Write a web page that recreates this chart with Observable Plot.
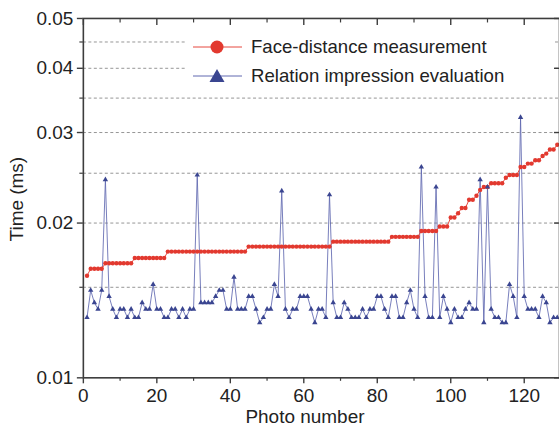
<!DOCTYPE html>
<html><head><meta charset="utf-8">
<script src="https://cdn.jsdelivr.net/npm/d3@7"></script>
<script src="https://cdn.jsdelivr.net/npm/@observablehq/plot@0.6"></script>
<style>
html,body{margin:0;padding:0;background:#fff;overflow:hidden;}
#wrap{position:relative;width:559px;height:427px;overflow:hidden;font-family:"Liberation Sans",Arial,sans-serif;}
#legend{position:absolute;left:187px;top:31px;width:366px;height:57px;background:#fff;}
.row{position:absolute;left:0;height:28px;display:flex;align-items:center;font-size:18.6px;color:#222;white-space:nowrap;}
.row svg{margin-left:6px;margin-right:9px;}
</style></head><body><div id="wrap"><div id="legend"></div></div>
<script>
// ---------- data ----------
const seriesNames = ["Face-distance measurement", "Relation impression evaluation"];
const xLabel = "Photo number";
const yLabel = "Time (ms)";
const xMajorTicks = [0, 20, 40, 60, 80, 100, 120];
const xMinorTicks = [10, 30, 50, 70, 90, 110];
const yMajorTicks = [0.01, 0.02, 0.03, 0.04, 0.05];
const yMinorTicks = [0.015, 0.025, 0.035, 0.045];
const yGridLines = [0.015, 0.02, 0.025, 0.03, 0.035, 0.04, 0.045];

const faceDistance = [
  0.0158, 0.0163, 0.0163, 0.0163, 0.0163, 0.0167, 0.0167, 0.0167, 0.0167, 0.0167,
  0.0167, 0.0167, 0.0167, 0.0171, 0.0171, 0.0171, 0.0171, 0.0171, 0.0171, 0.0171,
  0.0171, 0.0171, 0.0176, 0.0176, 0.0176, 0.0176, 0.0176, 0.0176, 0.0176, 0.0176,
  0.0176, 0.0176, 0.0176, 0.0176, 0.0176, 0.0176, 0.0176, 0.0176, 0.0176, 0.0176,
  0.0176, 0.0176, 0.0176, 0.0176, 0.0180, 0.0180, 0.0180, 0.0180, 0.0180, 0.0180,
  0.0180, 0.0180, 0.0180, 0.0180, 0.0180, 0.0180, 0.0180, 0.0180, 0.0180, 0.0180,
  0.0180, 0.0180, 0.0180, 0.0180, 0.0180, 0.0180, 0.0180, 0.0184, 0.0184, 0.0184,
  0.0184, 0.0184, 0.0184, 0.0184, 0.0184, 0.0184, 0.0184, 0.0184, 0.0184, 0.0184,
  0.0184, 0.0184, 0.0184, 0.0188, 0.0188, 0.0188, 0.0188, 0.0188, 0.0188, 0.0188,
  0.0188, 0.0193, 0.0193, 0.0193, 0.0193, 0.0193, 0.0197, 0.0197, 0.0197, 0.0205,
  0.0205, 0.0209, 0.0214, 0.0214, 0.0222, 0.0222, 0.0226, 0.0232, 0.0235, 0.0235,
  0.0239, 0.0239, 0.0239, 0.0239, 0.0245, 0.0248, 0.0248, 0.0248, 0.0257, 0.0257,
  0.0261, 0.0261, 0.0265, 0.0265, 0.0270, 0.0273, 0.0278, 0.0278, 0.0284
];

const relationImpression = [
  0.0131, 0.0148, 0.0140, 0.0136, 0.0148, 0.0243, 0.0144, 0.0136, 0.0131, 0.0136,
  0.0136, 0.0131, 0.0136, 0.0131, 0.0131, 0.0140, 0.0136, 0.0136, 0.0152, 0.0136,
  0.0136, 0.0131, 0.0131, 0.0136, 0.0136, 0.0131, 0.0136, 0.0131, 0.0136, 0.0136,
  0.0248, 0.0140, 0.0140, 0.0140, 0.0140, 0.0144, 0.0148, 0.0148, 0.0136, 0.0136,
  0.0157, 0.0136, 0.0136, 0.0136, 0.0144, 0.0144, 0.0136, 0.0128, 0.0131, 0.0136,
  0.0136, 0.0152, 0.0144, 0.0231, 0.0136, 0.0131, 0.0136, 0.0136, 0.0144, 0.0144,
  0.0144, 0.0136, 0.0128, 0.0136, 0.0136, 0.0131, 0.0227, 0.0140, 0.0131, 0.0131,
  0.0140, 0.0136, 0.0131, 0.0131, 0.0131, 0.0136, 0.0131, 0.0136, 0.0136, 0.0144,
  0.0144, 0.0136, 0.0131, 0.0144, 0.0144, 0.0131, 0.0131, 0.0140, 0.0148, 0.0136,
  0.0131, 0.0257, 0.0144, 0.0131, 0.0131, 0.0235, 0.0131, 0.0144, 0.0136, 0.0128,
  0.0136, 0.0131, 0.0131, 0.0136, 0.0140, 0.0136, 0.0136, 0.0243, 0.0128, 0.0235,
  0.0136, 0.0131, 0.0131, 0.0128, 0.0128, 0.0152, 0.0144, 0.0131, 0.0321, 0.0144,
  0.0136, 0.0136, 0.0136, 0.0131, 0.0144, 0.0140, 0.0128, 0.0131, 0.0131
];

// ---------- styles ----------
const RED = "#e2392f", RED_LINE = "#e6493f";
const BLUE = "#3a4590", BLUE_LINE = "#6068b0";
const AXIS = "#3d3d3d";

const face = faceDistance.map((v, i) => ({photo: i + 1, time: v}));
const rel = relationImpression.map((v, i) => ({photo: i + 1, time: v}));

const chart = Plot.plot({
  width: 560, height: 427,
  marginLeft: 83, marginRight: 0, marginTop: 18, marginBottom: 49,
  style: {fontFamily: "'Liberation Sans', Arial, sans-serif", fontSize: "19px", color: "#222", background: "transparent", overflow: "visible"},
  x: {domain: [0, 129.6]},
  y: {type: "log", domain: [0.01, 0.05]},
  marks: [
    Plot.gridY(yGridLines, {stroke: "#8a8a8a", strokeOpacity: 1, strokeWidth: 0.9, strokeDasharray: "3,2.5"}),
    Plot.line(rel, {x: "photo", y: "time", stroke: BLUE_LINE, strokeWidth: 0.85}),
    Plot.line(face, {x: "photo", y: "time", stroke: RED_LINE, strokeWidth: 1}),
    Plot.dot(face, {x: "photo", y: "time", r: 2.2, fill: RED, stroke: null}),
    Plot.dot(rel, {x: "photo", y: "time", symbol: "triangle", r: 2.0, fill: BLUE, stroke: null}),
    Plot.frame({stroke: AXIS, strokeWidth: 1.6}),
    Plot.axisX(xMajorTicks, {anchor: "bottom", tickSize: 6, tickPadding: 4.5, tickFormat: d => String(d), label: null, color: "#222", stroke: AXIS, strokeWidth: 1.4}),
    Plot.axisX(xMinorTicks, {anchor: "bottom", tickSize: 3.5, tickFormat: () => "", label: null, stroke: AXIS, strokeWidth: 1.2}),
    Plot.axisX(xMajorTicks, {anchor: "top", tickSize: 6, dy: 6, tickFormat: () => "", label: null, stroke: AXIS, strokeWidth: 1.4}),
    Plot.axisX(xMinorTicks, {anchor: "top", tickSize: 3.5, dy: 3.5, tickFormat: () => "", label: null, stroke: AXIS, strokeWidth: 1.2}),
    Plot.axisY(yMajorTicks, {anchor: "left", tickSize: 6, tickPadding: 4, tickFormat: d3.format(".2f"), label: null, color: "#222", stroke: AXIS, strokeWidth: 1.4}),
    Plot.axisY(yMinorTicks, {anchor: "left", tickSize: 3.5, tickFormat: () => "", label: null, stroke: AXIS, strokeWidth: 1.2}),
    Plot.axisY(yMajorTicks, {anchor: "right", tickSize: 6, dx: -6, tickFormat: () => "", label: null, stroke: AXIS, strokeWidth: 1.4}),
    Plot.text([xLabel], {frameAnchor: "bottom", text: d => d, dy: 39.5, dx: -16.5, lineAnchor: "middle", fill: "#222", fontSize: 19}),
    Plot.text([yLabel], {frameAnchor: "left", text: d => d, rotate: -90, dx: -67, dy: 1, lineAnchor: "middle", textAnchor: "middle", fill: "#222", fontSize: 19})
  ]
});
const wrap = document.getElementById("wrap");
wrap.insertBefore(chart, wrap.firstChild);

// ---------- legend ----------
const legend = document.getElementById("legend");
const legendStyles = [
  {color: RED_LINE, marker: `<circle cx="24" cy="14" r="6.5" fill="${RED}"/>`},
  {color: BLUE_LINE, marker: `<path d="M24,7 L31.5,20 L16.5,20 Z" fill="${BLUE}"/>`}
];
seriesNames.forEach((name, i) => {
  const row = document.createElement("div");
  row.className = "row";
  row.style.top = (i === 0 ? 2 : 31) + "px";
  row.innerHTML = `<svg width="49" height="28"><line x1="0" x2="49" y1="14" y2="14" stroke="${legendStyles[i].color}" stroke-width="1"/>${legendStyles[i].marker}</svg><span>${name}</span>`;
  legend.appendChild(row);
});
</script>
</body></html>
